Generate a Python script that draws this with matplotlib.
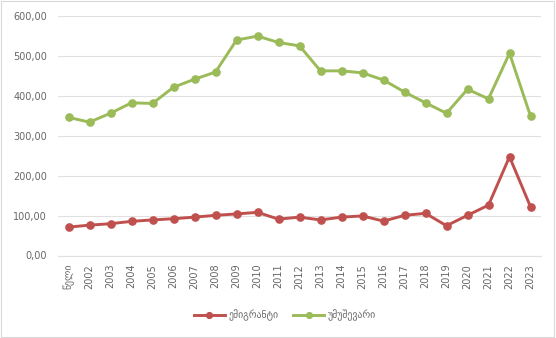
import numpy as np
import matplotlib.pyplot as plt
from matplotlib.patches import Rectangle

plt.rcParams['font.family'] = ['DejaVu Sans']

years = ["წელი"] + [str(y) for y in range(2002, 2024)]
emigrants = [71, 76, 79.5, 85.5, 89, 92, 96, 100.5, 104, 108, 91, 96, 89, 96, 99,
             86, 100.5, 105.5, 74.5, 100.5, 126, 247, 122]
unemployed = [345.5, 333.7, 356, 382, 380.5, 421, 441, 459, 539, 549, 533, 524.5,
              462, 462, 457, 439, 409, 382, 356, 416, 392, 506, 349]
labels = ["ემიგრანტი", "უმუშევარი"]

red = "#C0504D"
green = "#9BBB59"
grey = "#666666"

fig = plt.figure(figsize=(5.56, 3.38), dpi=100)
ax = fig.add_axes([58 / 556, 1 - 255.5 / 338, (541 - 58) / 556, (255.5 - 15.7) / 338])

x = np.arange(len(years))
ax.plot(x, emigrants, color=red, lw=2.1, marker="o", ms=5.2, label=labels[0])
ax.plot(x, unemployed, color=green, lw=2.1, marker="o", ms=5.2, label=labels[1])

ax.set_xlim(-0.5, len(years) - 0.5)
ax.set_ylim(0, 600)
ax.set_yticks(np.arange(0, 601, 100))
ax.set_yticklabels([f"{v:.2f}".replace(".", ",") for v in np.arange(0, 601, 100)])
ax.set_xticks(x)
ax.set_xticklabels(years, rotation=90)
ax.tick_params(axis="both", length=0, labelsize=7, labelcolor=grey)
ax.tick_params(axis="x", pad=6)
ax.tick_params(axis="y", pad=8)
ax.grid(axis="y", color="#E0E0E0", lw=0.8)
ax.set_axisbelow(True)
for s in ["top", "right", "left"]:
    ax.spines[s].set_visible(False)
ax.spines["bottom"].set_color("#E0E0E0")

fig.legend(loc="center", bbox_to_anchor=(285 / 556, 1 - 315 / 338), ncol=2,
           frameon=False, fontsize=7, labelcolor=grey, handlelength=3.2,
           columnspacing=1.5, handletextpad=0.4, markerscale=0.8)

fig.add_artist(Rectangle((0.002, 0.003), 0.995, 0.994, transform=fig.transFigure,
                         fill=False, edgecolor="#D9D9D9", lw=0.8))

fig.savefig("out.png", dpi=100)
